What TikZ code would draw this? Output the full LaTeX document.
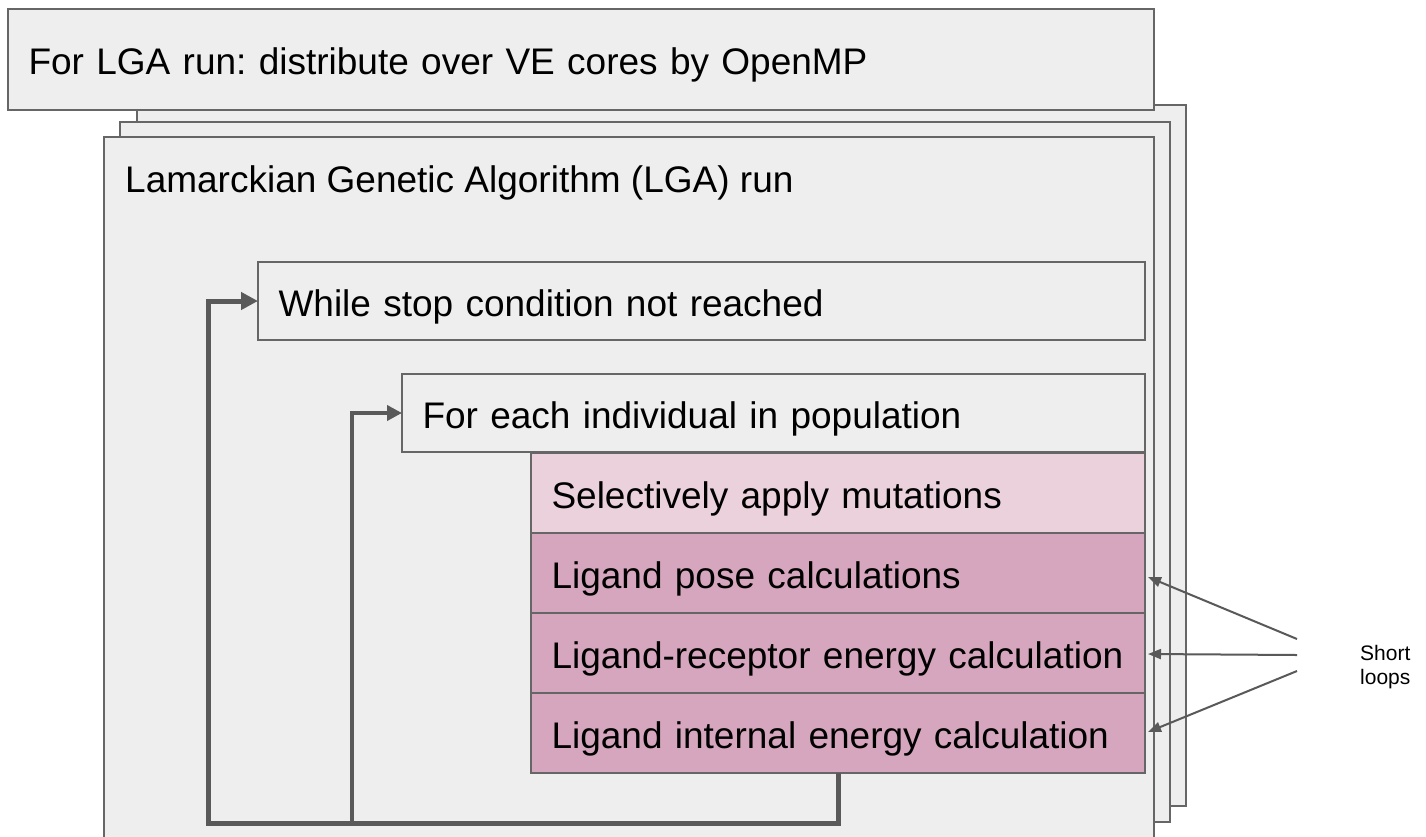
\documentclass[tikz,border=0pt]{standalone}
\usepackage{fontspec}
\setmainfont{Liberation Sans}
\usetikzlibrary{arrows.meta}
\definecolor{boxgray}{HTML}{EEEEEE}
\definecolor{edgegray}{HTML}{666666}
\definecolor{loopgray}{HTML}{595959}
\definecolor{pinklight}{HTML}{EAD1DC}
\definecolor{pinkdark}{HTML}{D5A6BD}
\newcommand{\bigtext}{\fontsize{37pt}{44pt}\selectfont}
\newcommand{\smalltext}{\fontsize{21pt}{24pt}\selectfont}
\frenchspacing
\begin{document}
\begin{tikzpicture}[x=1pt,y=-1pt,
  panel/.style={draw=edgegray, fill=boxgray, line width=2pt, inner sep=0pt,
    outer sep=0pt, anchor=north west},
  stepbox/.style={panel, font=\bigtext, align=left, inner xsep=20.5pt,
    inner ysep=0pt, text height=30pt, text depth=0pt},
  outerloop/.style={draw=loopgray, line width=5pt,
    -{Triangle[length=17pt,width=17pt]}},
  innerloop/.style={draw=loopgray, line width=4pt,
    -{Triangle[length=15pt,width=15pt]}},
  pointer/.style={draw=loopgray, line width=2pt,
    -{Triangle[length=13pt,width=10pt]}}]
\useasboundingbox (0,0) rectangle (1426,836);
\clip (0,0) rectangle (1426,836);
\fill[white] (0,0) rectangle (1426,836);

% stacked copies of the LGA run frame
\node[panel, minimum width=1049pt, minimum height=701pt] (frame3) at (137,105) {};
\node[panel, minimum width=1050pt, minimum height=700pt] (frame2) at (120,122) {};
\node[panel, minimum width=1050pt, minimum height=740pt] (frame1) at (104,137) {};

% outer OpenMP box
\node[stepbox, text width=1105pt, minimum height=101pt] (omp) at (8,9)
  {For LGA run: distribute over VE cores by OpenMP};

\node[font=\bigtext, anchor=base west, inner sep=0pt] (lgatitle) at (125,192)
  {Lamarckian Genetic Algorithm (LGA) run};

% nested loops
\node[stepbox, text width=846pt, minimum height=78pt] (while) at (258,262)
  {While stop condition not reached};
\node[stepbox, text width=702pt, minimum height=78pt] (foreach) at (402,374)
  {For each individual in population};

% per-individual steps
\node[stepbox, fill=pinklight, text width=573pt, minimum height=80pt] (mutate) at (531,453)
  {Selectively apply mutations};
\node[stepbox, fill=pinkdark, text width=573pt, minimum height=80pt] (pose) at (531,533)
  {Ligand pose calculations};
\node[stepbox, fill=pinkdark, text width=573pt, minimum height=80pt] (recep) at (531,613)
  {Ligand-receptor energy calculation};
\node[stepbox, fill=pinkdark, text width=573pt, minimum height=80pt] (ligint) at (531,693)
  {Ligand internal energy calculation};

% loop-back connectors
\coordinate (loopL) at (208,823);
\coordinate (loopI) at (352,823);
\draw[outerloop] (ligint.south) |- (loopL) |- (while.west);
\draw[innerloop] (loopI) |- (foreach.west);

% short loops annotation
\node[font=\smalltext, align=left, anchor=north west, inner sep=0pt] (short)
  at (1360,645) {Short\\loops};
\coordinate (s1) at (1297,639);
\coordinate (s2) at (1297,655);
\coordinate (s3) at (1297,671);
\draw[pointer] (s1) -- ([xshift=3pt,yshift=-4pt]pose.east);
\draw[pointer] (s2) -- ([xshift=3pt,yshift=-1pt]recep.east);
\draw[pointer] (s3) -- ([xshift=3pt,yshift=1pt]ligint.east);
\end{tikzpicture}
\end{document}
